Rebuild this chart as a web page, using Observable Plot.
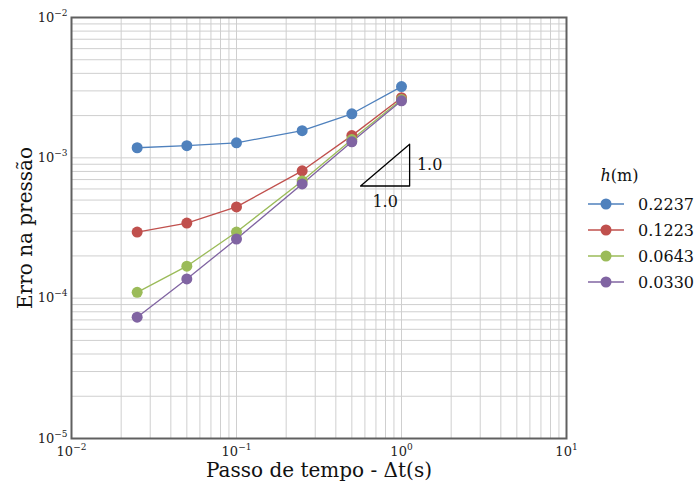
<!DOCTYPE html>
<html><head><meta charset="utf-8">
<script src="https://cdn.jsdelivr.net/npm/d3@7"></script>
<script src="https://cdn.jsdelivr.net/npm/@observablehq/plot@0.6"></script>
<style>
body{margin:0;background:#fff}
#wrap{position:relative;width:696px;height:485px;font-family:"DejaVu Serif",serif;color:#111}
#legend{position:absolute;left:587px;top:166px;font-size:16px}
#legend .title{text-align:center;width:85px;margin-left:-10px;margin-bottom:6px}
#legend .row{display:flex;align-items:center;height:26px}
#legend .row span{margin-left:13px}
</style></head><body><div id="wrap"></div>
<script>
// time steps (s)
const steps = [0.025, 0.05, 0.1, 0.25, 0.5, 1.0];
// legend / series labels h(m)
const seriesNames = ["0.2237", "0.1223", "0.0643", "0.0330"];
// pressure error per series
const err_02237 = [1.18e-3, 1.22e-3, 1.28e-3, 1.56e-3, 2.06e-3, 3.22e-3];
const err_01223 = [2.96e-4, 3.43e-4, 4.47e-4, 8.08e-4, 1.44e-3, 2.68e-3];
const err_00643 = [1.10e-4, 1.69e-4, 2.96e-4, 6.85e-4, 1.35e-3, 2.60e-3];
const err_00330 = [7.32e-5, 1.37e-4, 2.64e-4, 6.52e-4, 1.30e-3, 2.55e-3];
const seriesValues = [err_02237, err_01223, err_00643, err_00330];
const colors = ["#4F81BD", "#C0504D", "#9BBB59", "#8064A2"];
// slope triangle (slope 1.0)
const triX = [0.565, 1.12, 1.12, 0.565];
const triY = [6.3e-4, 6.3e-4, 1.25e-3, 6.3e-4];
const triLabel = "1.0";
// major tick labels
const xTicks = [0.01, 0.1, 1, 10];
const yTicks = [1e-5, 1e-4, 1e-3, 1e-2];

const data = [];
seriesNames.forEach((s, i) => steps.forEach((t, j) => data.push({h: s, dt: t, err: seriesValues[i][j]})));
const tri = triX.map((x, i) => ({x, y: triY[i]}));

function minor(ticks) {
  const out = [];
  for (let i = 0; i < ticks.length - 1; i++) for (let k = 1; k <= 9; k++) out.push(ticks[i] * k);
  out.push(ticks[ticks.length - 1]);
  return out;
}
const expFmt = d => "10|" + Math.round(Math.log10(d));

const plot = Plot.plot({
  width: 696, height: 485,
  marginLeft: 71, marginTop: 17, marginRight: 130, marginBottom: 47,
  style: {fontFamily: "DejaVu Serif, serif", background: "#fff", color: "#222"},
  x: {type: "log", domain: [0.01, 10]},
  y: {type: "log", domain: [1e-5, 1e-2]},
  color: {domain: seriesNames, range: colors},
  marks: [
    Plot.ruleX(minor(xTicks), {stroke: "#cfcfcf", strokeWidth: 1}),
    Plot.ruleY(minor(yTicks), {stroke: "#cfcfcf", strokeWidth: 1}),
    Plot.axisX(xTicks, {tickSize: 0, tickPadding: 8, tickFormat: expFmt, fontSize: 13, label: null}),
    Plot.axisY(yTicks, {tickSize: 0, tickPadding: 4, tickFormat: expFmt, fontSize: 13, label: null}),
    Plot.line(data, {x: "dt", y: "err", z: "h", stroke: "h", strokeWidth: 1.3}),
    Plot.dot(data, {x: "dt", y: "err", fill: "h", r: 5.5}),
    Plot.line(tri, {x: "x", y: "y", stroke: "#000", strokeWidth: 1.3}),
    Plot.text([triLabel], {x: Math.sqrt(triX[0] * triX[1]), y: triY[0], dy: 16, fontSize: 16, fill: "#111"}),
    Plot.text([triLabel], {x: triX[1], y: Math.sqrt(triY[1] * triY[2]), dx: 20, fontSize: 16, fill: "#111"}),
    Plot.frame({stroke: "#606060", strokeWidth: 2}),
    Plot.text(["Erro na pressão"], {frameAnchor: "left", textAnchor: "middle", lineAnchor: "middle", dx: -46, rotate: -90, fontSize: 20, fill: "#111"}),
    Plot.text(["Passo de tempo - Δt(s)"], {frameAnchor: "bottom", textAnchor: "middle", lineAnchor: "middle", dy: 32, fontSize: 20, fill: "#111", ariaLabel: "xlabel"})
  ]
});
document.getElementById("wrap").appendChild(plot);

// superscript exponents on tick labels
d3.select(plot).selectAll('g[aria-label="x-axis tick label"] text, g[aria-label="y-axis tick label"] text').each(function() {
  const s = d3.select(this);
  const t = s.text().split("|");
  if (t.length < 2) return;
  s.text("");
  s.append("tspan").text("10");
  s.append("tspan").attr("dy", "-6").attr("font-size", 9).text(t[1].replace("-", "−"));
});
// italic t in x label
d3.select(plot).selectAll('g[aria-label="xlabel"] text').each(function() {
  const s = d3.select(this);
  s.text("");
  s.append("tspan").text("Passo de tempo - Δ");
  s.append("tspan").attr("font-style", "italic").text("t");
  s.append("tspan").text("(s)");
});

// legend
const lg = d3.select("#wrap").append("div").attr("id", "legend");
const title = lg.append("div").attr("class", "title");
title.append("i").text("h");
title.append("span").text("(m)");
seriesNames.forEach((s, i) => {
  const row = lg.append("div").attr("class", "row");
  const sv = row.append("svg").attr("width", 38).attr("height", 14);
  sv.append("line").attr("x1", 1).attr("x2", 37).attr("y1", 7).attr("y2", 7).attr("stroke", colors[i]).attr("stroke-width", 1.3);
  sv.append("circle").attr("cx", 19).attr("cy", 7).attr("r", 5.5).attr("fill", colors[i]);
  row.append("span").text(s);
});
</script></body></html>
